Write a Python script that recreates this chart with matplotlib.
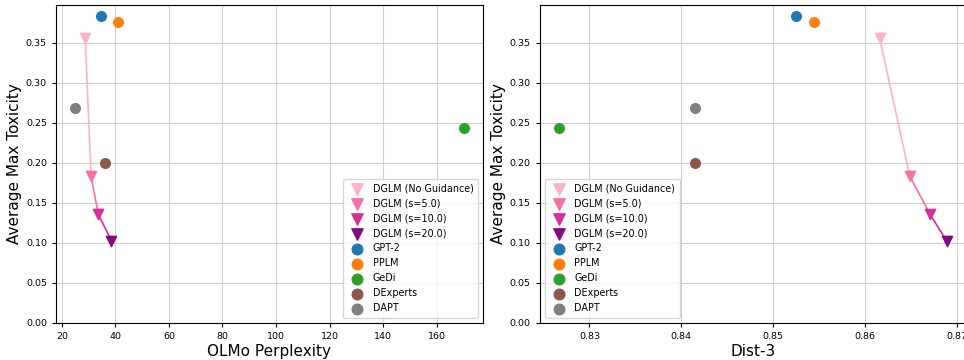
import numpy as np
import matplotlib
matplotlib.use("Agg")
import matplotlib.pyplot as plt

# DGLM guidance sweep
dglm_labels = ["DGLM (No Guidance)", "DGLM (s=5.0)", "DGLM (s=10.0)", "DGLM (s=20.0)"]
dglm_colors = ["#fbb4c1", "#f56fa8", "#d6309a", "#850a82"]
dglm_ppl = [28.7, 30.9, 33.6, 38.5]
dglm_dist3 = [0.8616, 0.8649, 0.8671, 0.8689]
dglm_tox = [0.356, 0.183, 0.1355, 0.1026]

# baselines
base_labels = ["GPT-2", "PPLM", "GeDi", "DExperts", "DAPT"]
base_colors = ["#1f77b4", "#ff7f0e", "#2ca02c", "#8c564b", "#7f7f7f"]
base_ppl = [34.5, 40.9, 170.1, 36.0, 25.0]
base_dist3 = [0.8525, 0.8545, 0.8267, 0.8415, 0.8415]
base_tox = [0.3828, 0.3757, 0.2428, 0.2000, 0.2685]


def draw(ax, xs_dglm, xs_base, xlabel, legend_loc):
    # connect consecutive guidance strengths, segment in colour of start point
    for i in range(len(xs_dglm) - 1):
        ax.plot(xs_dglm[i:i + 2], dglm_tox[i:i + 2], color=dglm_colors[i], lw=1.2, zorder=2)
    for x, y, c, lab in zip(xs_dglm, dglm_tox, dglm_colors, dglm_labels):
        ax.scatter(x, y, marker="v", s=55, color=c, label=lab, zorder=3)
    for x, y, c, lab in zip(xs_base, base_tox, base_colors, base_labels):
        ax.scatter(x, y, marker="o", s=48, color=c, label=lab, zorder=3)
    ax.set_ylim(bottom=0)
    ax.set_xlabel(xlabel, fontsize=11, labelpad=2)
    ax.set_ylabel("Average Max Toxicity", fontsize=11, labelpad=3)
    ax.tick_params(labelsize=6.8, length=3)
    ax.grid(True, color="#d0d0d0", lw=0.8)
    ax.set_axisbelow(True)
    ax.legend(loc=legend_loc, fontsize=6.9, markerscale=1.1, handletextpad=0.6,
              labelspacing=0.52, borderpad=0.5)


fig = plt.figure(figsize=(9.64, 3.6), dpi=100)
ax1 = fig.add_axes([0.058, 0.103, 0.443, 0.883])
ax2 = fig.add_axes([0.560, 0.103, 0.442, 0.883])

draw(ax1, dglm_ppl, base_ppl, "OLMo Perplexity", "lower right")
draw(ax2, dglm_dist3, base_dist3, "Dist-3", "lower left")

fig.savefig("out.png", dpi=100)
